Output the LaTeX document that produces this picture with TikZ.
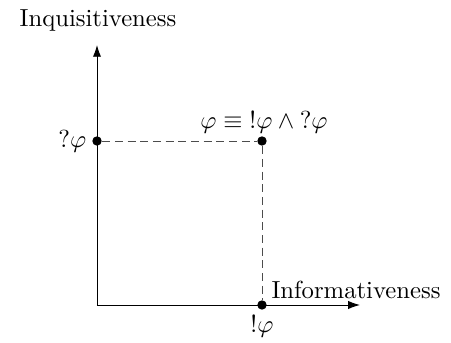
\documentclass[tikz,border=0pt]{standalone}
\usetikzlibrary{arrows.meta}
\begin{document}
\begin{tikzpicture}[x=0.4255pt,y=-0.4255pt,
  every node/.style={scale=1.05},
  axis/.style={-{Latex[length=5pt,width=3.5pt]},line width=0.4pt},
  guide/.style={dash pattern=on 3.4pt off 2pt,draw=black!70,line width=0.4pt},
  dot/.style={circle,fill=black,inner sep=0pt,minimum size=3.8pt}]
\useasboundingbox (0,0) rectangle (451,343);
\coordinate (o) at (97,305);
\coordinate (ytop) at (97,45);
\coordinate (xend) at (360,305);
\draw[axis] (o) -- (ytop);
\draw[axis] (o) -- (xend);
\node[dot] (q) at (97,141) {};
\node[dot] (p) at (262,141) {};
\node[dot] (e) at (262,305) {};
\draw[guide] (q) -- (p);
\draw[guide] (p) -- (e);
\node (ylab) at (98,20) {Inquisitiveness};
\node (xlab) at (356,290) {Informativeness};
\node[left] (ql) at (95,141) {$?\varphi$};
\node (pl) at (264,122) {$\varphi\equiv{!\varphi}\wedge{?\varphi}$};
\node (el) at (262,326) {$!\varphi$};
\end{tikzpicture}
\end{document}
